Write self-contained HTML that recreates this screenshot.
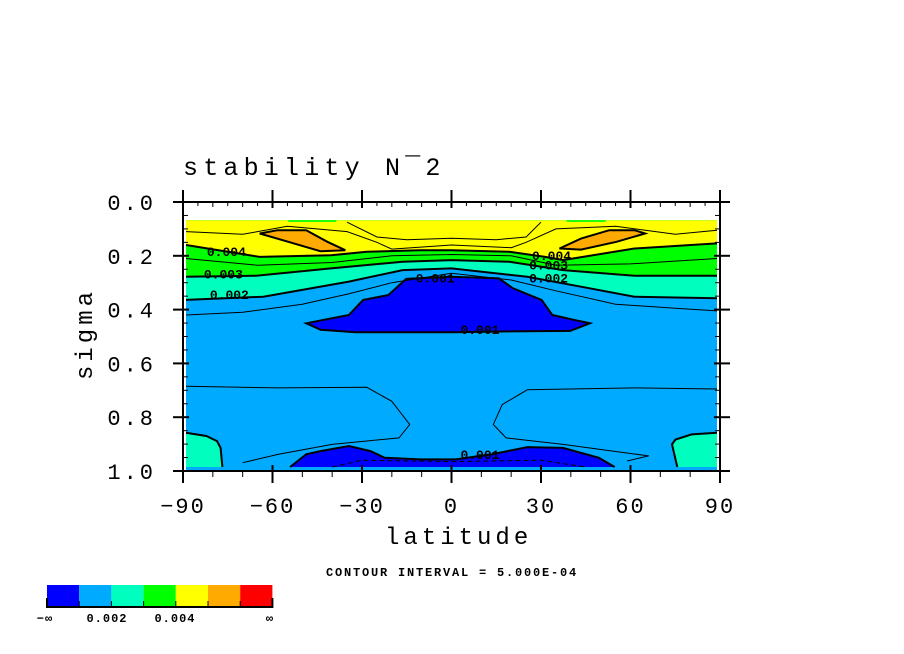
<!DOCTYPE html>
<html><head><meta charset="utf-8"><style>
body{margin:0;background:#fff;width:904px;height:654px;overflow:hidden}
svg{display:block}
text{font-family:"Liberation Mono",monospace}
</style></head><body>
<svg width="904" height="654" id="chart">
<g id="fills"></g>
<g id="lines"></g>
<g id="axes"></g>
<text x="183" y="175" font-size="25" letter-spacing="5.2">stability N¯2</text>
<text x="385" y="544" font-size="24" letter-spacing="4">latitude</text>
<text transform="translate(92,380) rotate(-90)" font-size="24" letter-spacing="4">sigma</text>
<text x="326" y="576" font-size="12" font-weight="bold" letter-spacing="1.8">CONTOUR INTERVAL = 5.000E-04</text>
<g id="cbar"></g>
</svg>
<script>
const NS="http://www.w3.org/2000/svg";
const xTicks=[-90,-60,-30,0,30,60,90];
const yTicks=[0.0,0.2,0.4,0.6,0.8,1.0];
const levelColors=["#0000ff","#00aaff","#00ffbf","#00ff00","#ffff00","#ffaa00","#ff0000"];
const cbarLabels=["−∞","0.002","0.004","∞"];
// contour regions in (lat, sigma)
const regionBase=[[-89,0.068],[89,0.068],[89,1],[-89,1]];
const regionCyan=[[-89,0.068],[89,0.068],[89,0.358],[61.3,0.352],[43.4,0.315],[25.4,0.278],[0,0.247],[-16.4,0.253],[-34.4,0.296],[-63.1,0.352],[-89,0.364]];
const regionGreen=[[-89,0.068],[89,0.068],[89,0.274],[61.3,0.274],[37.4,0.253],[19.4,0.222],[0,0.216],[-16.4,0.222],[-40.4,0.247],[-65.5,0.274],[-89,0.278]];
const regionYellow=[[-89,0.068],[89,0.068],[89,0.154],[61.3,0.173],[37.4,0.216],[31.4,0.204],[19.4,0.185],[0,0.179],[-10.5,0.179],[-28.4,0.185],[-40.4,0.198],[-64.3,0.204],[-89,0.16]];
const regionOrangeS=[[-64.3,0.117],[-58.3,0.105],[-48.7,0.105],[-41.6,0.148],[-35.6,0.179],[-43.9,0.183],[-54.7,0.148]];
const regionOrangeN=[[36.2,0.173],[43.4,0.136],[52.9,0.105],[61.3,0.105],[64.9,0.117],[55.3,0.148],[43.4,0.177]];
const regionGreenTopS=[[-54.7,0.068],[-38.6,0.068],[-38.6,0.074],[-54.7,0.074]];
const regionGreenTopN=[[38.6,0.068],[51.7,0.068],[51.7,0.074],[38.6,0.074]];
const regionBlueUp=[[-48.7,0.451],[-42.8,0.438],[-34.4,0.42],[-29.6,0.364],[-21.2,0.346],[-15.2,0.286],[0,0.278],[15.9,0.284],[20.6,0.321],[30.2,0.364],[33.8,0.42],[41,0.438],[46.4,0.451],[39.8,0.479],[19.4,0.481],[1.4,0.484],[-32,0.484],[-43.9,0.475]];
const regionBlueLow=[[-54.1,0.985],[-48.7,0.938],[-43.9,0.926],[-34.4,0.907],[-27.2,0.926],[-22.4,0.951],[-10.5,0.957],[1.4,0.957],[13.5,0.938],[25.4,0.911],[37.4,0.914],[49.4,0.951],[54.7,0.985]];
const regionCornerS=[[-89,0.858],[-82.2,0.87],[-78.6,0.889],[-77.4,0.914],[-76.8,0.985],[-89,0.985]];
const regionCornerN=[[89,0.858],[80.5,0.864],[75.1,0.883],[73.9,0.901],[75.7,0.985],[89,0.985]];
const lineMidS=[[-89,0.685],[-58.3,0.691],[-28.4,0.689],[-20,0.741],[-14,0.827],[-17.6,0.877],[-40,0.901],[-58,0.938],[-70,0.969]];
const lineMidN=[[89,0.695],[61.3,0.691],[25.4,0.698],[17,0.753],[14,0.827],[18.3,0.877],[37.4,0.901],[66.1,0.944],[58.9,0.963]];
const line15=[[-89,0.42],[-70,0.41],[-50,0.38],[-34,0.34],[-20,0.3],[0,0.265],[20,0.29],[35,0.33],[55,0.38],[75,0.395],[89,0.405]];
const line35=[[-89,0.21],[-65,0.235],[-40,0.225],[-20,0.2],[0,0.195],[20,0.2],[35,0.235],[60,0.23],[89,0.21]];
const line45=[[-89,0.11],[-70,0.12],[-55,0.09],[-35,0.11],[-25,0.15],[-20,0.175],[0,0.16],[20,0.17],[25,0.15],[35,0.1],[55,0.09],[75,0.12],[89,0.105]];
const lineWarm=[[-35,0.075],[-25,0.13],[-15,0.14],[0,0.135],[15,0.14],[25,0.13],[30,0.075]];
const lineDash=[[-40,0.985],[-30,0.96],[0,0.965],[30,0.96],[45,0.985]];

const X0=183,X1=720,Y0=202,Y1=471;
const xs=l=>X0+(l+90)/180*(X1-X0);
const ys=s=>Y0+s*(Y1-Y0);
const pts=a=>a.map(p=>xs(p[0]).toFixed(1)+","+ys(p[1]).toFixed(1)).join(" ");
const fills=document.getElementById("fills"),lines=document.getElementById("lines"),axes=document.getElementById("axes"),cbar=document.getElementById("cbar");
function poly(arr,fill,name,stroke,sw){
  const e=document.createElementNS(NS,"polygon");
  e.setAttribute("points",pts(arr));e.setAttribute("fill",fill);
  e.setAttribute("stroke",stroke||"none");e.setAttribute("stroke-width",sw||2);
  
  
  fills.appendChild(e);
}
function pline(arr,name,sw,dash){
  const e=document.createElementNS(NS,"polyline");
  e.setAttribute("points",pts(arr));e.setAttribute("fill","none");
  e.setAttribute("stroke","#000");e.setAttribute("stroke-width",sw);
  if(dash)e.setAttribute("stroke-dasharray",dash);
  
  
  lines.appendChild(e);
}
poly(regionBase,levelColors[1],"region-0015");
poly(regionCyan,levelColors[2],"region-002");
pline(regionCyan.slice(2),"contour-002",2);
poly(regionGreen,levelColors[3],"region-003");
pline(regionGreen.slice(2),"contour-003",2);
poly(regionYellow,levelColors[4],"region-004");
pline(regionYellow.slice(2),"contour-004",2);
poly(regionOrangeS,levelColors[5],"region-orange-south","#000",2);
poly(regionOrangeN,levelColors[5],"region-orange-north","#000",2);
poly(regionGreenTopS,levelColors[3],"region-green-top-south");
poly(regionGreenTopN,levelColors[3],"region-green-top-north");
poly(regionBlueUp,levelColors[0],"region-001-upper","#000",2);
poly(regionBlueLow,levelColors[0],"region-001-lower");
pline(regionBlueLow,"contour-001-lower",2);
poly(regionCornerS,levelColors[2],"region-corner-south");
pline(regionCornerS.slice(0,-1),"contour-corner-south",2);
poly(regionCornerN,levelColors[2],"region-corner-north");
pline(regionCornerN.slice(0,-1),"contour-corner-north",2);
pline(lineMidS,"contour-mid-south",1);
pline(lineMidN,"contour-mid-north",1);
pline(line15,"contour-0015",1);
pline(line35,"contour-0035",1);
pline(line45,"contour-0045",1);
pline(lineWarm,"contour-warm",1);
pline(lineDash,"contour-dashed",1,"5,3");
// contour labels
const labels=[["0.004",-82,0.2],["0.003",-83,0.285],["0.002",-81,0.36],["0.001",-12,0.3],["0.001",3,0.49],["0.001",3,0.955],["0.004",27,0.215],["0.003",26,0.25],["0.002",26,0.3]];
labels.forEach(l=>{const t=document.createElementNS(NS,"text");t.setAttribute("x",xs(l[1]));t.setAttribute("y",ys(l[2]));t.setAttribute("font-size","13");t.setAttribute("font-weight","bold");t.textContent=l[0];


lines.appendChild(t);});
// frame & ticks
function ln(x1,y1,x2,y2,w,name){const e=document.createElementNS(NS,"line");e.setAttribute("x1",x1);e.setAttribute("y1",y1);e.setAttribute("x2",x2);e.setAttribute("y2",y2);e.setAttribute("stroke","#000");e.setAttribute("stroke-width",w);


axes.appendChild(e);}
ln(X0,Y0,X1,Y0,2,"frame-top");ln(X0,Y1,X1,Y1,2,"frame-bottom");ln(X0,Y0,X0,Y1,2,"frame-left");ln(X1,Y0,X1,Y1,2,"frame-right");
for(let l=-90;l<=90;l+=5){const maj=l%30===0;const x=xs(l);
 if(maj){ln(x,Y0-12,x,Y0+6,2,"x-major-tick");ln(x,Y1-6,x,Y1+12,2,"x-major-tick");}
 else if(l%10===0){ln(x,Y0,x,Y0+5,1,"x-minor-tick");ln(x,Y1,x,Y1+6,1,"x-minor-tick");}
 else{ln(x,Y0,x,Y0+4,1,"x-minor-tick");}
}
for(let i=0;i<=20;i++){const s=i*0.05;const y=ys(s);const maj=i%4===0;
 if(maj){ln(X0-10,y,X0+6,y,2,"y-major-tick");ln(X1-6,y,X1+10,y,2,"y-major-tick");}
 else{ln(X0,y,X0+5,y,1,"y-minor-tick");ln(X1-5,y,X1,y,1,"y-minor-tick");}
}
xTicks.forEach(v=>{const t=document.createElementNS(NS,"text");t.setAttribute("x",xs(v));t.setAttribute("y",Y1+42);t.setAttribute("text-anchor","middle");t.setAttribute("font-size","22");t.setAttribute("letter-spacing","2");t.textContent=v<0?"−"+(-v):String(v);


axes.appendChild(t);});
yTicks.forEach(v=>{const t=document.createElementNS(NS,"text");t.setAttribute("x",156);t.setAttribute("y",ys(v)+8);t.setAttribute("text-anchor","end");t.setAttribute("font-size","22");t.setAttribute("letter-spacing","3");t.textContent=v.toFixed(1);


axes.appendChild(t);});
// colorbar
levelColors.forEach((c,i)=>{const r=document.createElementNS(NS,"rect");r.setAttribute("x",47+i*32.2);r.setAttribute("y",585);r.setAttribute("width",32.2);r.setAttribute("height",21);r.setAttribute("fill",c);


cbar.appendChild(r);
const t=document.createElementNS(NS,"line");t.setAttribute("x1",47+i*32.2);t.setAttribute("x2",47+i*32.2);t.setAttribute("y1",601);t.setAttribute("y2",607);t.setAttribute("stroke","#000");


cbar.appendChild(t);});
{const b=document.createElementNS(NS,"path");b.setAttribute("d","M47,598 V607 H272.4 V598");b.setAttribute("fill","none");b.setAttribute("stroke","#000");b.setAttribute("stroke-width","2");


cbar.appendChild(b);}
const cbx=[45,107,175,270];
cbarLabels.forEach((s,i)=>{const t=document.createElementNS(NS,"text");t.setAttribute("x",cbx[i]);t.setAttribute("y",622);t.setAttribute("text-anchor","middle");t.setAttribute("font-size","12");t.setAttribute("font-weight","bold");t.setAttribute("letter-spacing","1");t.textContent=s;


cbar.appendChild(t);});
</script>
</body></html>
